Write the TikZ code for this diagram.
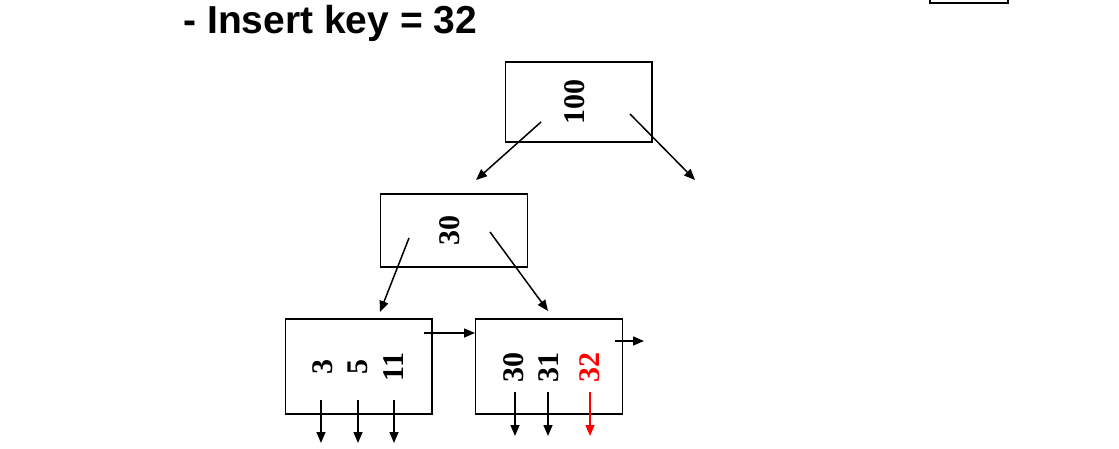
\documentclass[tikz,border=0pt]{standalone}
\usepackage{fontspec}
\setmainfont{Liberation Serif}
\newfontfamily\titlefont{Liberation Sans}
\usetikzlibrary{arrows.meta, positioning}

\begin{document}
\begin{tikzpicture}[
    x=0.5pt, y=-0.5pt,
    bnode/.style={rectangle, draw, line width=0.7pt, minimum width=73.3pt, inner sep=0pt},
    keytext/.style={rotate=90, font=\fontsize{15}{15}\selectfont\bfseries, inner sep=0pt},
    ptr/.style={-{Triangle[length=5.5pt, width=4.5pt]}, line width=0.75pt}
]
\useasboundingbox (0,0) rectangle (1119,449);

% Title
\node[anchor=base west, inner sep=0pt, font=\titlefont\fontsize{19.5}{20}\selectfont\bfseries] (title) at (183,34) {- Insert key = 32};

% Partial box at top right
\draw[line width=0.7pt] (930,-10) rectangle (1008,3);

% Root
\node[bnode, minimum height=40pt] (root) at (578.5,102) {};
\node[keytext] (k100) at (575,102) {100};

% Inner node
\node[bnode, minimum height=36.5pt] (inner) at (454,230.5) {};
\node[keytext] (k30i) at (450,230) {30};

% Leaves
\node[bnode, minimum height=47.5pt] (leafa) at (358.5,366.5) {};
\node[keytext] (k3) at (323,367) {3};
\node[keytext] (k5) at (358,367) {5};
\node[keytext] (k11) at (394,367) {11};

\node[bnode, minimum height=47.5pt] (leafb) at (549,366.5) {};
\node[keytext] (k30) at (514,367) {30};
\node[keytext] (k31) at (549,367) {31};
\node[keytext, text=red] (k32) at (590,367) {32};

% Pointer coordinates
\coordinate (rl) at (541,122);
\coordinate (rlend) at (476,180);
\coordinate (rr) at (630,114);
\coordinate (rrend) at (695,180);
\coordinate (il) at (409,238);
\coordinate (ilend) at (380,312);
\coordinate (ir) at (490,232);
\coordinate (irend) at (548,311);
\coordinate (la) at (424,333);
\coordinate (lb) at (615,341);
\coordinate (lbend) at (644,341);
\foreach \x/\n in {321/a, 358/b, 394/c} {
    \coordinate (pa\n) at (\x,400);
    \coordinate (ea\n) at (\x,443);
}
\foreach \x/\n in {515/a, 548/b, 590/c} {
    \coordinate (pb\n) at (\x,392);
    \coordinate (eb\n) at (\x,436);
}

% === Arrows ===
\draw[ptr] (rl) -- (rlend);
\draw[ptr] (rr) -- (rrend);
\draw[ptr] (il) -- (ilend);
\draw[ptr] (ir) -- (irend);
\draw[ptr] (la) -- (leafb.west |- la);
\draw[ptr] (lb) -- (lbend);

% Record pointers
\foreach \n in {a, b, c} {
    \draw[ptr] (pa\n) -- (ea\n);
}
\draw[ptr] (pba) -- (eba);
\draw[ptr] (pbb) -- (ebb);
\draw[ptr, red] (pbc) -- (ebc);
\end{tikzpicture}
\end{document}
